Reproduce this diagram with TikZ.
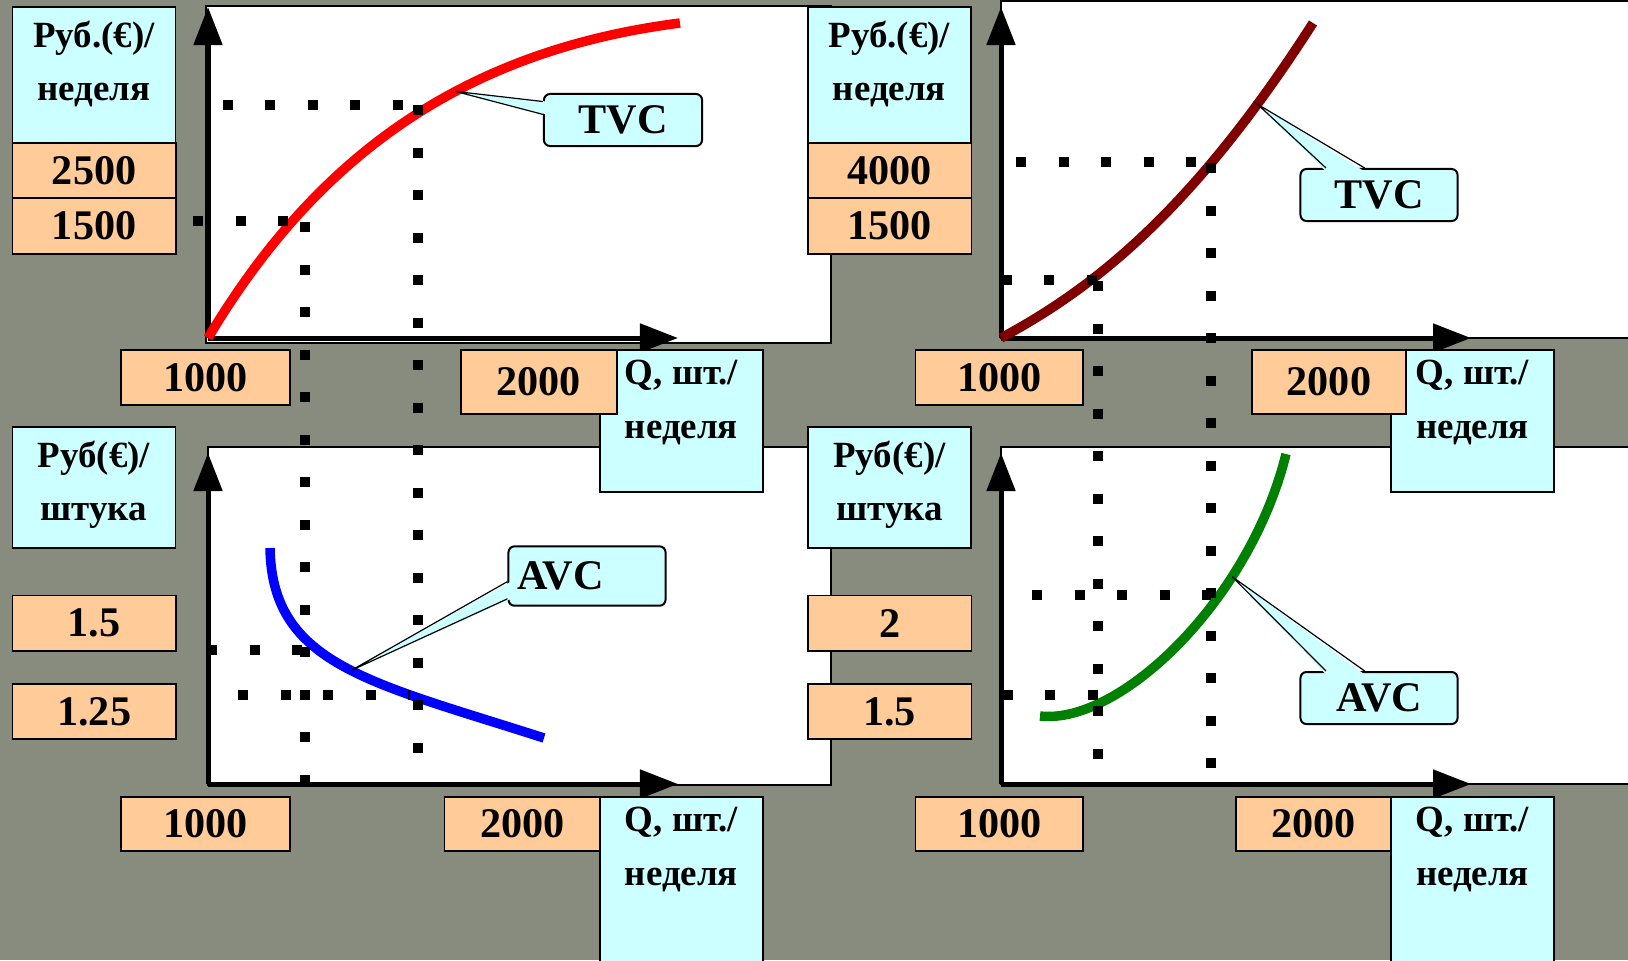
\documentclass[tikz,border=0pt]{standalone}
\usepackage{fontspec}
\setmainfont{Liberation Serif}
\usetikzlibrary{arrows.meta}
\definecolor{custom-board}{RGB}{136, 140, 126}
\definecolor{custom-orange}{RGB}{255, 204, 153}
\definecolor{custom-cyan}{RGB}{204, 255, 255}
\definecolor{custom-maroon}{RGB}{128, 0, 0}
\definecolor{custom-green}{RGB}{0, 128, 0}
\tikzset{
  plotarea/.style={fill=white, draw=black, line width=0.015cm},
  axis/.style={line width=0.05cm, -{Triangle[length=0.38cm, width=0.28cm]}},
  curve/.style={line width=0.095cm},
  dots/.style={line width=0.1cm, dash pattern=on 0.1cm off 0.325cm},
  numbox/.style={draw=black, line width=0.018cm, fill=custom-orange, anchor=north west,
    minimum width=1.635cm, minimum height=0.55cm, inner sep=0pt,
    font=\fontsize{12}{14}\selectfont\bfseries},
  labbox/.style={draw=black, line width=0.018cm, fill=custom-cyan, anchor=north west,
    inner sep=0pt, font=\fontsize{10.5}{15.2}\selectfont\bfseries},
  callbox/.style={draw=black, line width=0.02cm, fill=custom-cyan, rounded corners=0.06cm,
    minimum width=1.57cm, minimum height=0.52cm, inner sep=0pt,
    font=\fontsize{12}{14}\selectfont\bfseries},
  tail/.style={draw=black, line width=0.012cm}
}
\newcommand{\stacktext}[3]{\parbox[c][#1][t]{1.63cm}{\centering\rule{0pt}{#2}#3}}
\begin{document}
\begin{tikzpicture}[x=0.01cm, y=-0.01cm]
\useasboundingbox (0,0) rectangle (1628,960);
\clip (0,0) rectangle (1628,960);
\fill[custom-board] (0,0) rectangle (1628,960);

% plot areas
\filldraw[plotarea] (206,6) rectangle (831,343);
\filldraw[plotarea] (1001,1) rectangle (1640,338);
\filldraw[plotarea] (208,447) rectangle (831,785);
\filldraw[plotarea] (1001,447) rectangle (1640,784);

% axes
\foreach \ox/\oy in {208/338, 1001/338, 208/784, 1001/784} {
  \draw[axis] (\ox,\oy) -- (\ox,\oy-331);
  \draw[axis] (\ox,\oy) -- (\ox+470,\oy);
}

% curves
\draw[curve, red] (208,338) .. controls (320,150) and (470,50) .. coordinate[pos=0.6] (tipA) (680,23);
\draw[curve, custom-maroon] (1001,338) .. controls (1090,290) and (1190,215) .. coordinate[pos=0.845] (tipB) (1313,23);
\draw[curve, blue] (270,548) .. controls (272,665) and (370,682) .. coordinate[pos=0.53] (tipC) (544,738);
\draw[curve, custom-green] (1040,716) .. controls (1120,725) and (1250,600) .. coordinate[pos=0.7] (tipD) (1286,454);

% guide dots
\draw[dots] (193,221) -- (305,221);
\draw[dots] (305,222) -- (305,785);
\draw[dots] (222.5,105) -- (410,105);
\draw[dots] (418,105) -- (418,755);
\draw[dots] (1016,162) -- (1205,162);
\draw[dots] (1211,163) -- (1211,768);
\draw[dots] (1001.5,280) -- (1098,280);
\draw[dots] (1098,281) -- (1098,760);
\draw[dots] (207,650) -- (305,650);
\draw[dots] (238,695) -- (410,695);
\draw[dots] (1032,595) -- (1211,595);
\draw[dots] (1002.5,695) -- (1098,695);

% callouts
\node[callbox, minimum width=1.58cm] (tvcA) at (623,120) {TVC};
\fill[custom-cyan] ([xshift=1pt]tvcA.167) -- (tipA) -- ([xshift=1pt]tvcA.176) -- cycle;
\draw[tail] (tvcA.167) -- (tipA) -- (tvcA.176);
\node[callbox] (tvcB) at (1379,195) {TVC};
\fill[custom-cyan] ([yshift=-1pt]tvcB.153) -- (tipB) -- ([yshift=-1pt]tvcB.118) -- cycle;
\draw[tail] (tvcB.153) -- (tipB) -- (tvcB.118);
\node[callbox, minimum height=0.593cm, text width=1.39cm, align=left, inner xsep=0.04cm] (avcC) at (587,576) {AVC};
\fill[custom-cyan] ([xshift=1pt]avcC.184) -- (tipC) -- ([xshift=1pt]avcC.196) -- cycle;
\draw[tail] (avcC.184) -- (tipC) -- (avcC.196);
\node[callbox] (avcD) at (1379,698) {AVC};
\fill[custom-cyan] ([yshift=-1pt]avcD.153) -- (tipD) -- ([yshift=-1pt]avcD.118) -- cycle;
\draw[tail] (avcD.153) -- (tipD) -- (avcD.118);

% top left labels
\node[labbox] (rubA) at (11.5,6) {\stacktext{1.36cm}{0.405cm}{Руб.(€)/\\неделя}};
\node[numbox] (tlA) at (11.5,142) {2500};
\node[numbox, minimum height=0.56cm] (tlB) at (11.5,197) {1500};
\node[labbox] (qA) at (599,349) {\stacktext{1.42cm}{0.35cm}{Q, шт./\\неделя}};
\node[numbox, minimum width=1.69cm] (oneA) at (120,349) {1000};
\node[numbox, minimum width=1.556cm, minimum height=0.64cm] (twoA) at (460,349) {2000};

% top right labels
\node[labbox] (rubB) at (807,6) {\stacktext{1.36cm}{0.405cm}{Руб.(€)/\\неделя}};
\node[numbox] (trA) at (807,142) {4000};
\node[numbox, minimum height=0.56cm] (trB) at (807,197) {1500};
\node[labbox] (qB) at (1390,349) {\stacktext{1.42cm}{0.35cm}{Q, шт./\\неделя}};
\node[numbox, minimum width=1.675cm] (oneB) at (914.5,349) {1000};
\node[numbox, minimum width=1.54cm, minimum height=0.64cm] (twoB) at (1251,349) {2000};

% bottom left labels
\node[labbox] (rubC) at (11.5,426) {\stacktext{1.21cm}{0.405cm}{Руб(€)/\\штука}};
\node[numbox, minimum height=0.555cm] (blA) at (11.5,594.6) {1.5};
\node[numbox, minimum height=0.555cm] (blB) at (11.5,682.7) {1.25};
\node[labbox] (qC) at (599,796) {\stacktext{1.70cm}{0.35cm}{Q, шт./\\неделя}};
\node[numbox, minimum width=1.69cm, minimum height=0.54cm] (oneC) at (120,796) {1000};
\node[numbox, minimum width=1.555cm, minimum height=0.54cm] (twoC) at (443.5,796) {2000};

% bottom right labels
\node[labbox] (rubD) at (807,426) {\stacktext{1.21cm}{0.405cm}{Руб(€)/\\штука}};
\node[numbox, minimum height=0.555cm] (brA) at (807,594.6) {2};
\node[numbox, minimum height=0.555cm] (brB) at (807,682.7) {1.5};
\node[labbox] (qD) at (1390,796) {\stacktext{1.70cm}{0.35cm}{Q, шт./\\неделя}};
\node[numbox, minimum width=1.675cm, minimum height=0.54cm] (oneD) at (914.5,796) {1000};
\node[numbox, minimum width=1.55cm, minimum height=0.54cm] (twoD) at (1235,796) {2000};
\end{tikzpicture}
\end{document}
